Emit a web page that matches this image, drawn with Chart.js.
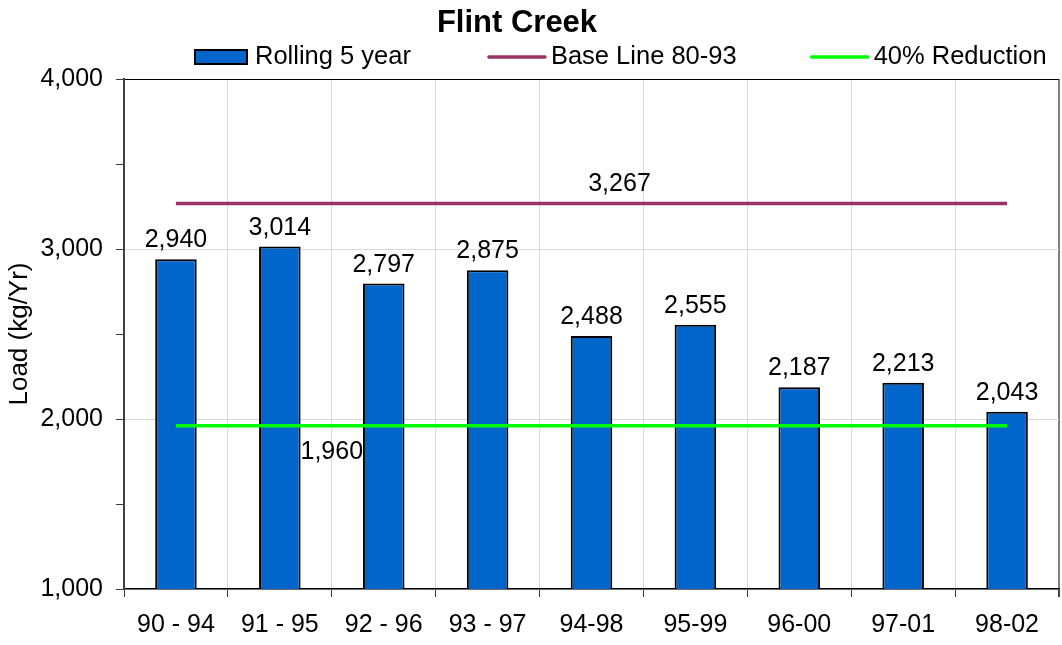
<!DOCTYPE html>
<html>
<head>
<meta charset="utf-8">
<title>Flint Creek</title>
<script src="https://cdn.jsdelivr.net/npm/chart.js@4.4.1/dist/chart.umd.min.js"></script>
<style>
    body { margin: 0; background: #fff; }
    #wrap { width: 1062px; height: 645px; }
</style>
</head>
<body>
<div id="wrap"><canvas id="flint-chart" width="1062" height="645"></canvas></div>
<script>
const periods = ['90 - 94', '91 - 95', '92 - 96', '93 - 97', '94-98', '95-99', '96-00', '97-01', '98-02']
const rolling = [2940, 3014, 2797, 2875, 2488, 2555, 2187, 2213, 2043]
const baseLine = [3267, 3267, 3267, 3267, 3267, 3267, 3267, 3267, 3267]
const reduction = [1960, 1960, 1960, 1960, 1960, 1960, 1960, 1960, 1960]
const yMin = 1000
const yMax = 4000
const yStep = 500

const FONT = 'Arial, "Liberation Sans", sans-serif'
const fmt = v => v.toLocaleString('en-US')

// title, legend and value labels drawn by hand (Excel-like placement)
const excelBits = {
    id: 'excelBits',
    afterDatasetsDraw(chart) {
        const c = chart.ctx
        c.save()
        c.fillStyle = '#000'

        // bar values
        c.font = '25px ' + FONT
        c.textAlign = 'center'
        c.textBaseline = 'alphabetic'
        const bars = chart.getDatasetMeta(2).data
        bars.forEach((el, i) => {
            c.fillText(fmt(rolling[i]), el.x, el.y - 12)
        })

        // line values
        const base = chart.getDatasetMeta(0).data
        c.fillText(fmt(baseLine[4]), base[4].x + 28, base[4].y - 13)
        const red = chart.getDatasetMeta(1).data
        c.fillText(fmt(reduction[1]), (red[1].x + red[2].x) / 2, red[1].y + 33)

        // title
        c.font = 'bold 31px ' + FONT
        c.fillText('Flint Creek', 517, 32)

        // legend
        c.font = '25.5px ' + FONT
        c.textAlign = 'left'
        const ds = chart.data.datasets
        let x = 195
        const ly = 57
        c.fillStyle = ds[2].backgroundColor
        c.fillRect(x, ly - 7, 52, 14)
        c.strokeStyle = '#000'
        c.lineWidth = 2
        c.strokeRect(x, ly - 7, 52, 14)
        x += 60
        c.fillStyle = '#000'
        c.fillText(ds[2].label, x, 64)
        x += c.measureText(ds[2].label).width + 78
        for (const k of [0, 1]) {
            c.strokeStyle = ds[k].borderColor
            c.lineWidth = 3.5
            c.lineCap = 'round'
            c.beginPath()
            c.moveTo(x, ly)
            c.lineTo(x + 56, ly)
            c.stroke()
            x += 62
            c.fillText(ds[k].label, x, 64)
            x += c.measureText(ds[k].label).width + 75
        }
        c.restore()
    }
}

const ctx = document.getElementById('flint-chart').getContext('2d')
const myChart = new Chart(ctx, {
    data: {
        labels: periods,
        datasets: [
            {
                type: 'line',
                label: 'Base Line 80-93',
                data: baseLine,
                borderColor: '#993366',
                borderWidth: 3.5,
                pointRadius: 0,
                fill: false,
                order: 0
            },
            {
                type: 'line',
                label: '40% Reduction',
                data: reduction,
                borderColor: '#00FF00',
                borderWidth: 3.5,
                pointRadius: 0,
                fill: false,
                order: 1
            },
            {
                type: 'bar',
                label: 'Rolling 5 year',
                data: rolling,
                backgroundColor: '#0066CC',
                borderColor: '#000',
                borderWidth: 2,
                borderSkipped: 'start',
                categoryPercentage: 1,
                barPercentage: 0.4,
                order: 2
            }
        ]
    },
    options: {
        responsive: false,
        animation: false,
        layout: { padding: { top: 79, right: 3, left: 0, bottom: 0 } },
        plugins: {
            legend: { display: false },
            title: { display: false },
            tooltip: { enabled: false }
        },
        scales: {
            x: {
                offset: true,
                grid: {
                    offset: true,
                    color: c => c.type === 'tick' ? '#d9d9d9' : '#808080',
                    lineWidth: c => c.type === 'tick' ? 1 : 2,
                    tickColor: '#404040',
                    tickLength: 8
                },
                border: { color: '#000', width: 1.5 },
                ticks: {
                    color: '#000',
                    font: { family: FONT, size: 25 },
                    padding: 13,
                    maxRotation: 0,
                    autoSkip: false
                },
                afterFit: s => { s.height = 56 }
            },
            y: {
                min: yMin,
                max: yMax,
                grid: {
                    color: c => {
                        const v = c.tick ? c.tick.value : 0
                        if (v === yMax) return '#000'
                        if (v % 1000 === 0) return '#d9d9d9'
                        return 'rgba(0,0,0,0)'
                    },
                    tickColor: '#404040',
                    tickLength: 8
                },
                border: { color: '#404040', width: 2 },
                ticks: {
                    stepSize: yStep,
                    color: '#000',
                    font: { family: FONT, size: 25 },
                    padding: 13,
                    callback: v => v % 1000 === 0 ? fmt(v) : ''
                },
                title: {
                    display: true,
                    text: 'Load (kg/Yr)',
                    color: '#000',
                    font: { family: FONT, size: 26 },
                    padding: { top: 4, bottom: 0 }
                },
                afterFit: s => { s.width = 124 }
            }
        }
    },
    plugins: [excelBits]
})
</script>
</body>
</html>
